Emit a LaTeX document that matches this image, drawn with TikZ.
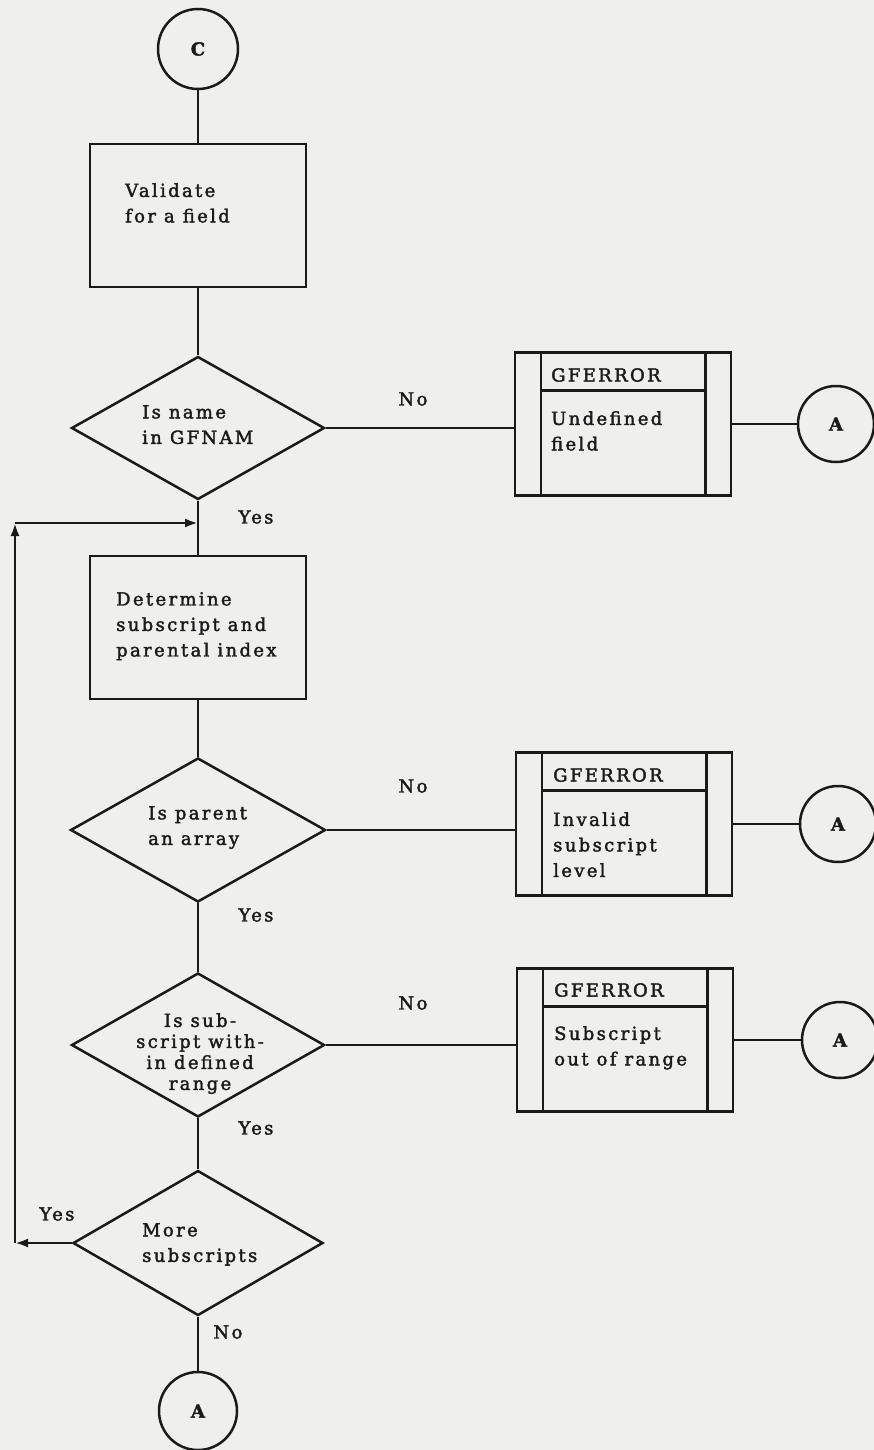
\documentclass[tikz,border=0pt]{standalone}
\usepackage{fontspec}
\setmainfont{DejaVu Serif}[LetterSpace=13,FakeBold=2]
\usetikzlibrary{shapes.geometric,arrows.meta,calc}
\definecolor{paper}{HTML}{EFEFED}
\definecolor{ink}{HTML}{1A1A1A}
\begin{document}
\begin{tikzpicture}[x=1pt,y=-1pt,
  txt/.style={inner sep=0, anchor=north west, align=left, text=ink, font=\fontsize{18}{25.5}\selectfont},
  ctxt/.style={inner sep=0, anchor=north, align=center, text=ink, font=\fontsize{18}{21}\selectfont},
  lab/.style={inner sep=0, text=ink, font=\fontsize{18}{18}\selectfont},
  conn/.style={circle, draw=ink, line width=2.5pt, minimum size=80pt, inner sep=0, text=ink, font=\fontsize{18}{18}\selectfont\bfseries},
  proc/.style={draw=ink, rectangle, minimum width=216pt, minimum height=143pt, inner sep=0, line width=2.5pt},
  dec/.style={draw=ink, diamond, minimum width=253pt, minimum height=143pt, inner sep=0, line width=2.5pt},
  flow/.style={line width=2.5pt, draw=ink},
  arr/.style={flow, -{Latex[length=13pt,width=9pt]}}
]
\fill[paper] (0,0) rectangle (874,1450);
\useasboundingbox (0,0) rectangle (874,1450);

% main column
\node[conn] (C) at (198,49) {C};
\node[proc] (b1) at (198,215.5) {};
\node[txt] (t1) at (125,183) {Validate\\for a field};
\node[dec] (d1) at (198,428) {};
\node[txt] (t2) at (142,405) {Is name\\in GFNAM};
\node[proc] (b2) at (198,627.5) {};
\node[txt] (t3) at (116,592) {Determine\\subscript and\\parental index};
\node[dec, minimum width=255pt, minimum height=144pt] (d2) at (198,830) {};
\node[txt] (t4) at (148,806) {Is parent\\an array};
\node[dec, minimum height=144pt] (d3) at (198,1045) {};
\node[ctxt] (t5) at (200,1013) {Is sub-\\script with-\\in defined\\range};
\node[dec, minimum width=250pt, minimum height=145pt] (d4) at (198,1243) {};
\node[txt] (t6) at (142,1223) {More\\subscripts};
\node[conn, minimum size=78pt] (A4) at (198,1411) {A};

% subroutine boxes
\node[proc] (s1) at (623,424) {};
\node[proc] (s2) at (624,824) {};
\node[proc] (s3) at (625,1040) {};
\foreach \s in {s1,s2,s3}{
  \draw[flow] ($(\s.north west)+(27,0)$) -- ($(\s.south west)+(27,0)$);
  \draw[flow] ($(\s.north east)+(-27,0)$) -- ($(\s.south east)+(-27,0)$);
  \draw[flow] ($(\s.north west)+(27,39)$) -- ($(\s.north east)+(-27,39)$);
}
\node[txt] (g1) at (551,368) {GFERROR};
\node[txt] (u1) at (551,411) {Undefined\\field};
\node[txt] (g2) at (553,768) {GFERROR};
\node[txt] (u2) at (553,812) {Invalid\\subscript\\level};
\node[txt] (g3) at (554,983) {GFERROR};
\node[txt] (u3) at (554,1026) {Subscript\\out of range};

\node[conn, minimum size=76pt] (A1) at (836,424) {A};
\node[conn, minimum size=76pt] (A2) at (838,824) {A};
\node[conn, minimum size=76pt] (A3) at (840,1040) {A};

% connectors
\draw[flow] (C.south) -- (b1.north);
\draw[flow] (b1.south) -- (d1.north);
\draw[flow] (d1.south) -- (b2.north);
\draw[flow] (b2.south) -- (d2.north);
\draw[flow] (d2.south) -- (d3.north);
\draw[flow] (d3.south) -- (d4.north);
\draw[flow] (d4.south) -- (A4.north);

\draw[flow] (d1.east) -- (d1.east -| s1.west);
\draw[flow] (s1.east) -- (A1.west);
\draw[flow] (d2.east) -- (d2.east -| s2.west);
\draw[flow] (s2.east) -- (A2.west);
\draw[flow] (d3.east) -- (d3.east -| s3.west);
\draw[flow] (s3.east) -- (A3.west);

% loop back
\coordinate (L1) at (15,1243);
\coordinate (L2) at (15,523);
\coordinate (J) at (198,523);
\draw[arr] (d4.west) -- (L1);
\draw[arr] (L1) -- (L2);
\draw[arr] (L2) -- (J);

% labels
\node[lab] (n1) at (413,399) {No};
\node[lab] (y1) at (256,517) {Yes};
\node[lab] (n2) at (413,786) {No};
\node[lab] (y2) at (256,915) {Yes};
\node[lab] (n3) at (413,1003) {No};
\node[lab] (y3) at (256,1128) {Yes};
\node[lab] (y4) at (57,1214) {Yes};
\node[lab] (n4) at (228,1332) {No};
\end{tikzpicture}
\end{document}
